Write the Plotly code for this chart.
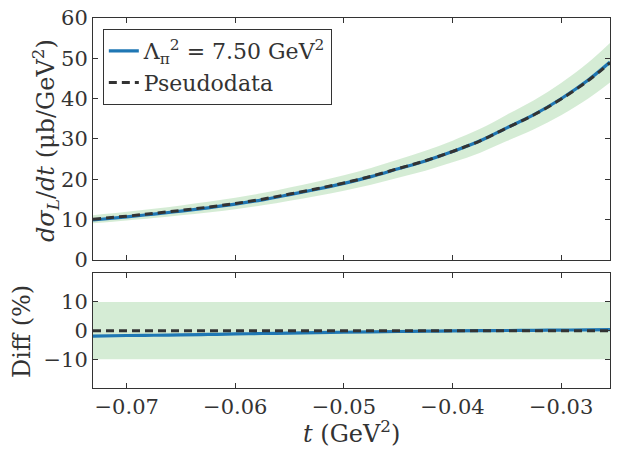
import plotly.graph_objects as go
from plotly.subplots import make_subplots

# ---- data ----
t_vals = [-0.0731, -0.0700, -0.0675, -0.0650, -0.0625, -0.0600, -0.0575, -0.0550,
          -0.0525, -0.0500, -0.0475, -0.0450, -0.0425, -0.0400, -0.0375, -0.0350,
          -0.0325, -0.0300, -0.0275, -0.0255]
pseudodata = [10.10, 10.87, 11.55, 12.30, 13.10, 14.00, 15.07, 16.35,
              17.66, 19.10, 20.75, 22.67, 24.60, 26.90, 29.50, 32.75,
              36.00, 39.90, 44.50, 48.90]
model = [9.91, 10.69, 11.38, 12.12, 12.93, 13.84, 14.92, 16.21,
         17.54, 19.00, 20.66, 22.60, 24.55, 26.87, 29.49, 32.77,
         36.04, 39.98, 44.62, 49.07]
diff_pct = [-1.90, -1.70, -1.60, -1.50, -1.33, -1.15, -1.00, -0.85,
            -0.70, -0.55, -0.42, -0.30, -0.20, -0.10, -0.02, 0.05,
            0.13, 0.20, 0.28, 0.35]
band_pct = 10.0
x_range = [-0.0731, -0.0255]
x_ticks = [-0.07, -0.06, -0.05, -0.04, -0.03]
top_ticks = [0, 10, 20, 30, 40, 50, 60]
bottom_ticks = [-10, 0, 10]

legend_model = "Λ<sub>π</sub><sup>2</sup> = 7.50 GeV<sup>2</sup>"
legend_pseudo = "Pseudodata"

BLUE = "#1f77b4"
DARK = "#333333"
GREEN_FILL = "rgba(44,160,44,0.2)"
FONT = "DejaVu Serif"

upper = [v * (1 + band_pct / 100) for v in pseudodata]
lower = [v * (1 - band_pct / 100) for v in pseudodata]

fig = make_subplots(rows=2, cols=1, shared_xaxes=True)

# top band
fig.add_trace(go.Scatter(x=t_vals, y=upper, mode="lines", line=dict(width=0, shape="spline"),
                         showlegend=False, hoverinfo="skip"), row=1, col=1)
fig.add_trace(go.Scatter(x=t_vals, y=lower, mode="lines", line=dict(width=0, shape="spline"),
                         fill="tonexty", fillcolor=GREEN_FILL,
                         showlegend=False, hoverinfo="skip"), row=1, col=1)
fig.add_trace(go.Scatter(x=t_vals, y=model, mode="lines", name=legend_model,
                         line=dict(color=BLUE, width=3.2, shape="spline")), row=1, col=1)
fig.add_trace(go.Scatter(x=t_vals, y=pseudodata, mode="lines", name=legend_pseudo,
                         line=dict(color=DARK, width=3, dash="8px,5px", shape="spline")),
              row=1, col=1)

# bottom band
fig.add_trace(go.Scatter(x=x_range, y=[band_pct, band_pct], mode="lines",
                         line=dict(width=0), showlegend=False, hoverinfo="skip"),
              row=2, col=1)
fig.add_trace(go.Scatter(x=x_range, y=[-band_pct, -band_pct], mode="lines",
                         line=dict(width=0), fill="tonexty", fillcolor=GREEN_FILL,
                         showlegend=False, hoverinfo="skip"), row=2, col=1)
fig.add_trace(go.Scatter(x=t_vals, y=diff_pct, mode="lines", showlegend=False,
                         line=dict(color=BLUE, width=3.2, shape="spline")), row=2, col=1)
fig.add_trace(go.Scatter(x=x_range, y=[0, 0], mode="lines", showlegend=False,
                         line=dict(color=DARK, width=3, dash="8px,5px")), row=2, col=1)

axis_common = dict(showline=True, linecolor=DARK, linewidth=1, mirror="ticks",
                   ticks="inside", ticklen=5, tickcolor=DARK, showgrid=False,
                   zeroline=False, automargin=False,
                   tickfont=dict(family=FONT, size=21, color=DARK))

fig.update_xaxes(range=x_range, tickvals=x_ticks, **axis_common)
fig.update_xaxes(showticklabels=False, row=1, col=1)
fig.update_xaxes(tickformat=".2f", row=2, col=1)
fig.update_yaxes(range=[0, 60], tickvals=top_ticks, row=1, col=1, **axis_common)
fig.update_yaxes(range=[-20, 20], tickvals=bottom_ticks, row=2, col=1, **axis_common)

fig.update_layout(
    width=620, height=449,
    margin=dict(l=93, r=10, t=18, b=61, autoexpand=False),
    paper_bgcolor="white", plot_bgcolor="white",
    font=dict(family=FONT, color=DARK),
    xaxis=dict(domain=[0, 1]),
    yaxis=dict(domain=[0.346, 1.0]),
    yaxis2=dict(domain=[0.0, 0.310]),
    xaxis2=dict(domain=[0, 1]),
    legend=dict(x=0.019, y=0.970, xanchor="left", yanchor="top",
                traceorder="normal", tracegroupgap=0,
                bgcolor="white", bordercolor=DARK, borderwidth=1,
                font=dict(family=FONT, size=22, color=DARK)),
    showlegend=True,
)

fig.add_annotation(text="<i>dσ<sub>L</sub></i>/<i>dt</i> (μb/GeV<sup>2</sup>)",
                   xref="paper", yref="paper", x=-0.093, y=0.67, textangle=-90,
                   showarrow=False, xanchor="center", yanchor="middle",
                   font=dict(family=FONT, size=24, color=DARK))
fig.add_annotation(text="Diff (%)", xref="paper", yref="paper", x=-0.137, y=0.152,
                   textangle=-90, showarrow=False, xanchor="center", yanchor="middle",
                   font=dict(family=FONT, size=24, color=DARK))
fig.add_annotation(text="<i>t</i> (GeV<sup>2</sup>)", xref="paper", yref="paper",
                   x=0.5, y=-0.118, showarrow=False, xanchor="center", yanchor="middle",
                   font=dict(family=FONT, size=24, color=DARK))

fig.write_html("out.html", config={"displayModeBar": False},
               post_script="document.body.style.margin='0';document.body.style.padding='0';")
